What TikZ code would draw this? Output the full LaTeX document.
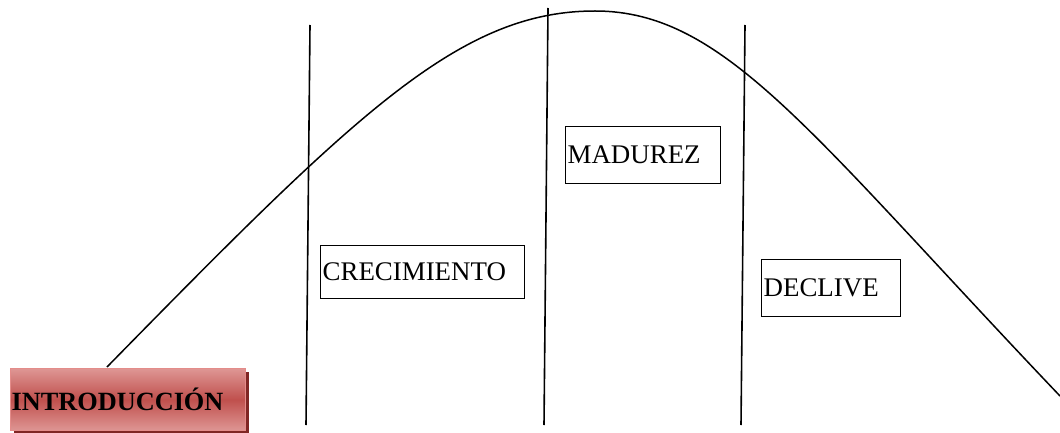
\documentclass[tikz,border=0pt]{standalone}
\usepackage{fontspec}
\setmainfont{Liberation Serif}
\definecolor{shadowred}{RGB}{128,38,36}
\definecolor{edgered}{RGB}{228,140,138}
\definecolor{lightred}{RGB}{222,150,148}
\definecolor{midred}{RGB}{192,80,77}
\begin{document}
\begin{tikzpicture}[x=1pt,y=-1pt,
  stage/.style={draw=black, line width=1.3pt, fill=white, inner xsep=2pt, inner ysep=0pt, font=\fontsize{26.9}{28}\selectfont, align=left, anchor=north west},
  divider/.style={line width=1.6pt},
  curveline/.style={line width=1.5pt}]
\useasboundingbox (0,0) rectangle (1060,433);
% curve
\coordinate (cstart) at (107,367);
\coordinate (cpeak) at (595,11);
\coordinate (cend) at (1060,396);
\draw[curveline] (cstart) .. controls (357,112) and (460,11) .. (cpeak)
  .. controls (725,11) and (810,133.5) .. (cend);
% vertical dividers
\coordinate (d1t) at (310,25); \coordinate (d1b) at (306,425);
\coordinate (d2t) at (548,8); \coordinate (d2b) at (544,425);
\coordinate (d3t) at (745,25); \coordinate (d3b) at (741,425);
\draw[divider] (d1t) -- (d1b);
\draw[divider] (d2t) -- (d2b);
\draw[divider] (d3t) -- (d3b);
% boxes
\node[stage, text width=200pt, minimum height=53pt] (crec) at (320,245) {CRECIMIENTO};
\node[stage, text width=151pt, minimum height=57pt] (mad) at (565,126) {MADUREZ};
\node[stage, text width=135pt, minimum height=57pt] (dec) at (761,259) {DECLIVE};
% introduction box with shadow
\fill[shadowred] (14,372) rectangle (249,434);
\node[anchor=north west, minimum width=235pt, minimum height=62pt, text width=233pt, inner xsep=1pt, inner ysep=0pt, align=left,
  draw=edgered, line width=1.2pt,
  top color=lightred, bottom color=lightred, middle color=midred,
  font=\bfseries\fontsize{26.3}{28}\selectfont] (intro) at (10,368) {INTRODUCCIÓN};
\end{tikzpicture}
\end{document}
